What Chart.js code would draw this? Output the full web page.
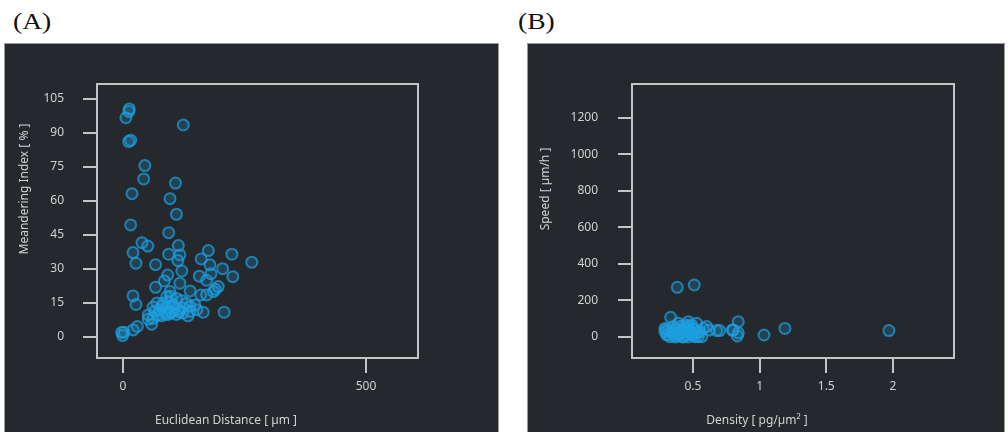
<!DOCTYPE html>
<html lang="en">

<head>
  <meta charset="UTF-8">
  <title>Cell Tracking Scatter</title>
  <script src="https://cdn.jsdelivr.net/npm/chart.js"></script>
  <style>
    body { margin: 0; background: #fff; width: 1008px; height: 432px; position: relative; overflow: hidden; }
    .tag { position: absolute; top: 9px; font: 23px "Liberation Serif", serif; color: #111; transform: scaleX(1.2); transform-origin: left top; }
    .panel { position: absolute; top: 44px; height: 388px; background: #25292d; outline: 1px solid #9a9a9a; }
    .panel canvas { position: absolute; left: 0; top: 0; }
  </style>
</head>

<body>
  <div class="tag" style="left:13px">(A)</div>
  <div class="tag" style="left:518px">(B)</div>
  <div class="panel" style="left:5px;width:493px"><canvas id="chartA" width="493" height="388"></canvas></div>
  <div class="panel" style="left:528px;width:476px"><canvas id="chartB" width="476" height="388"></canvas></div>
  <script>
    // (A) Euclidean distance vs meandering index
    const distanceA = [13, 12, 6, 124, 15.8, 11.7, 45, 42.5, 108, 18.5, 96.7, 110, 15.8, 94, 39, 51, 114, 20.6, 94, 117,
      175.5, 224, 265, 26.7, 67, 113, 161, 179, 205, 121, 92, 157, 181, 226, 85, 117, 172, 67, 138, 160,
      186, 196, 190, 20.6, 26.7, 90, 98, 95, 110, 121, 131, 148, 165, 208, 62, 75, 86, 99, 110, 123,
      138, 152, 52, 62, 72, 59, 52, 29.5, 21, 2, -0.6, -2.7, 90, 103, 83, 93, 123, 113, 138, 172,
      96.7, 79, 134, 65, 100, 105, 88, 115, 80, 70];
    const meanderA = [100.6, 99.5, 96.7, 93.5, 86.8, 86.2, 75.6, 69.7, 67.9, 63.2, 61, 54.1, 49.4, 46, 41.6, 40.1, 40.3, 37.2, 36.5, 36.2,
      38.1, 36.5, 33, 32.5, 31.9, 33.7, 34.4, 31.8, 30.1, 29.1, 27.3, 26.8, 27.9, 26.6, 24.7, 23.7, 25, 21.9, 20.3, 18.5,
      20, 22.2, 21, 18.1, 14.3, 17.8, 18, 15.5, 17, 16, 14.8, 14.1, 10.9, 10.9, 13.2, 12, 11.3, 10.6, 9.9, 10.6,
      11.3, 12, 9.7, 8.2, 9.7, 5.6, 7.8, 4.6, 3.1, 2.1, 0.6, 2, 12.8, 14.2, 15, 9.9, 12.8, 12, 13.5, 18.5,
      20, 9.3, 9.3, 11.3, 11, 13, 10, 11, 13.5, 15];
    const xTicksA = [0, 500];
    const yTicksA = [0, 15, 30, 45, 60, 75, 90, 105];

    // (B) density vs speed
    const densityB = [0.383, 0.51, 0.333, 0.465, 0.528, 0.603, 0.678, 0.70, 0.84, 0.803, 0.833, 0.84, 1.033, 1.19, 1.97,
      0.62, 0.795, 0.29, 0.303, 0.353, 0.378, 0.403, 0.428, 0.453, 0.478, 0.503, 0.528, 0.553, 0.578, 0.29,
      0.328, 0.366, 0.416, 0.466, 0.516, 0.566, 0.39, 0.44, 0.49, 0.353, 0.316, 0.34, 0.39, 0.416, 0.44,
      0.466, 0.49, 0.516, 0.54, 0.378, 0.428, 0.403, 0.3, 0.31, 0.45, 0.48, 0.42, 0.37, 0.5, 0.46];
    const speedB = [272, 285, 108, 84, 75, 57, 35, 35, 84, 38, 5.5, 23, 11, 47, 35,
      38, 38, 29, 11, 20, 38, 57, 29, 11, 38, 47, 20, 29, 47, 47,
      2, 0, 2, 0, 2, 2, 75, 66, 66, 57, 38, 29, 20, 38, 47,
      29, 20, 38, 2, 5, 0, 11, 40, 15, 50, 25, 30, 45, 10, 60];
    const xTicksB = [0.5, 1, 1.5, 2];
    const yTicksB = [0, 200, 400, 600, 800, 1000, 1200];

    const textColor = '#d2d2d2';
    const lineColor = '#c4c4c4';
    const tickFont = { family: 'Noto Sans', size: 12 };

    // draws the plot box and the axis titles
    const framePlugin = {
      id: 'frame',
      afterDraw(chart, args, opts) {
        const { ctx, chartArea: a } = chart;
        ctx.save();
        ctx.strokeStyle = lineColor;
        ctx.lineWidth = 2;
        ctx.strokeRect(a.left, a.top, a.right - a.left, a.bottom - a.top);
        ctx.fillStyle = textColor;
        ctx.font = '12px "Noto Sans"';
        ctx.textAlign = 'center';
        ctx.textBaseline = 'middle';
        ctx.fillText(opts.xTitle, opts.xTitleAt[0], opts.xTitleAt[1]);
        ctx.translate(opts.yTitleAt[0], opts.yTitleAt[1]);
        ctx.rotate(-Math.PI / 2);
        ctx.fillText(opts.yTitle, 0, 0);
        ctx.restore();
      }
    };

    const makeScatter = (id, xs, ys, xr, yr, xTicks, yTicks, yWidth, yPad, rightPad, titles) => {
      const points = xs.map((x, i) => ({ x: x, y: ys[i] }));
      return new Chart(document.getElementById(id), {
        type: 'scatter',
        data: {
          datasets: [{
            data: points,
            backgroundColor: 'rgba(30, 160, 225, 0.22)',
            borderColor: 'rgba(30, 160, 225, 0.72)',
            borderWidth: 2,
            pointRadius: 5.5,
            pointHoverRadius: 5.5
          }]
        },
        options: {
          responsive: false,
          animation: false,
          layout: { padding: { left: 0, top: 40, right: rightPad, bottom: 0 } },
          plugins: {
            legend: { display: false },
            tooltip: { enabled: false },
            frame: titles
          },
          scales: {
            x: {
              type: 'linear',
              min: xr[0],
              max: xr[1],
              afterBuildTicks: s => { s.ticks = xTicks.map(v => ({ value: v })); },
              afterFit: s => { s.height = 74; },
              grid: { drawOnChartArea: false, tickLength: 15, color: lineColor, lineWidth: 2 },
              border: { display: false },
              ticks: { color: textColor, font: tickFont, padding: 6, maxRotation: 0, callback: v => String(v) }
            },
            y: {
              type: 'linear',
              min: yr[0],
              max: yr[1],
              afterBuildTicks: s => { s.ticks = yTicks.map(v => ({ value: v })); },
              afterFit: s => { s.width = yWidth; },
              grid: { drawOnChartArea: false, tickLength: 14, color: lineColor, lineWidth: 2 },
              border: { display: false },
              ticks: { color: textColor, font: tickFont, padding: yPad, callback: v => String(v) }
            }
          }
        },
        plugins: [framePlugin]
      });
    };

    makeScatter('chartA', distanceA, meanderA, [-53.5, 607], [-9.3, 111.6], xTicksA, yTicksA, 92, 19, 80, {
      xTitle: 'Euclidean Distance [ µm ]', xTitleAt: [221, 377],
      yTitle: 'Meandering Index [ % ]', yTitleAt: [20, 145]
    });
    makeScatter('chartB', densityB, speedB, [0.043, 2.458], [-115, 1386], xTicksB, yTicksB, 104, 20, 50, {
      xTitle: 'Density [ pg/µm² ]', xTitleAt: [229, 377],
      yTitle: 'Speed [ µm/h ]', yTitleAt: [18, 145]
    });
  </script>
</body>

</html>
